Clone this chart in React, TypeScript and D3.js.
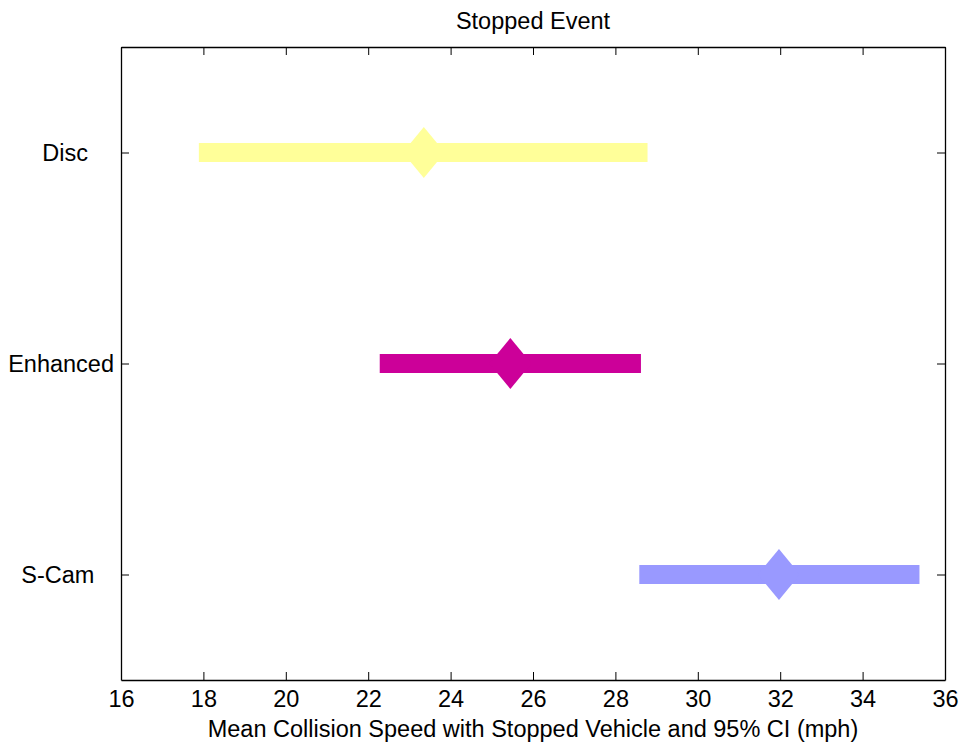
import { useEffect, useRef } from "react";
import * as d3 from "d3";

// Stopped event: mean collision speed with 95% CI per camera configuration
const categories = ["Disc", "Enhanced", "S-Cam"];
const yTickLabels = ["Disc    ", "Enhanced", "S-Cam   "];
const means = [23.35, 25.45, 31.97];
const ciLow = [17.89, 22.28, 28.58];
const ciHigh = [28.78, 28.62, 35.38];
const colors = ["#ffff99", "#cc0099", "#9999ff"];
const xTicks = [16, 18, 20, 22, 24, 26, 28, 30, 32, 34, 36];

const FONT = "'Liberation Sans', Arial, Helvetica, sans-serif";
const FONT_SIZE = "23.5px";

const App = () => {
  const svgRef = useRef<SVGSVGElement | null>(null);

  useEffect(() => {
    const width = 964;
    const height = 748;
    const margin = { top: 47, right: 19, bottom: 68, left: 121 };
    const innerWidth = width - margin.left - margin.right;
    const innerHeight = height - margin.top - margin.bottom;

    d3.select(svgRef.current).selectAll("*").remove();

    const svg = d3
      .select(svgRef.current)
      .attr("width", width)
      .attr("height", height);

    const g = svg
      .append("g")
      .attr("transform", `translate(${margin.left},${margin.top})`);

    const x = d3.scaleLinear().domain([16, 36]).range([0, innerWidth]);
    const y = d3.scaleLinear().domain([0.5, 3.5]).range([0, innerHeight]);

    const rows = categories.map((c, i) => ({
      name: c,
      pos: i + 1,
      mean: means[i],
      lo: ciLow[i],
      hi: ciHigh[i],
      color: colors[i],
    }));

    // CI bars
    const barH = 19;
    g.selectAll(".ci")
      .data(rows)
      .enter()
      .append("rect")
      .attr("class", "ci")
      .attr("x", (d) => x(d.lo))
      .attr("y", (d) => y(d.pos) - barH / 2)
      .attr("width", (d) => x(d.hi) - x(d.lo))
      .attr("height", barH)
      .attr("fill", (d) => d.color);

    // diamond markers at the mean
    const hw = 21;
    const hh = 25.5;
    g.selectAll(".mean")
      .data(rows)
      .enter()
      .append("path")
      .attr("class", "mean")
      .attr("d", (d) => {
        const cx = x(d.mean);
        const cy = y(d.pos);
        return `M${cx},${cy - hh}L${cx + hw},${cy}L${cx},${cy + hh}L${cx - hw},${cy}Z`;
      })
      .attr("fill", (d) => d.color);

    const styleAxis = (sel: any) => {
      sel.select(".domain").attr("stroke", "#000").attr("stroke-width", 1.3);
      sel.selectAll("line").attr("stroke", "#000").attr("stroke-width", 1);
      sel
        .selectAll("text")
        .attr("fill", "#000")
        .style("font-family", FONT)
        .style("font-size", FONT_SIZE);
    };

    // bottom axis
    g.append("g")
      .attr("transform", `translate(0,${innerHeight})`)
      .call(
        d3
          .axisBottom(x)
          .tickValues(xTicks)
          .tickSizeInner(-8)
          .tickSizeOuter(0)
          .tickPadding(10)
          .tickFormat((d) => `${d}`)
      )
      .call(styleAxis);

    // top axis (ticks only)
    g.append("g")
      .call(
        d3
          .axisTop(x)
          .tickValues(xTicks)
          .tickSizeInner(-8)
          .tickSizeOuter(0)
          .tickFormat(() => "")
      )
      .call(styleAxis);

    // left axis
    g.append("g")
      .call(
        d3
          .axisLeft(y)
          .tickValues([1, 2, 3])
          .tickSizeInner(-8)
          .tickSizeOuter(0)
          .tickPadding(7)
          .tickFormat((d) => yTickLabels[(d as number) - 1])
      )
      .call(styleAxis)
      .selectAll("text")
      .style("white-space", "pre")
      .attr("xml:space", "preserve");

    // right axis (ticks only)
    g.append("g")
      .attr("transform", `translate(${innerWidth},0)`)
      .call(
        d3
          .axisRight(y)
          .tickValues([1, 2, 3])
          .tickSizeInner(-8)
          .tickSizeOuter(0)
          .tickFormat(() => "")
      )
      .call(styleAxis);

    // title
    svg
      .append("text")
      .attr("x", margin.left + innerWidth / 2)
      .attr("y", 29)
      .attr("text-anchor", "middle")
      .style("font-family", FONT)
      .style("font-size", FONT_SIZE)
      .attr("fill", "#000")
      .text("Stopped Event");

    // x axis label
    svg
      .append("text")
      .attr("x", margin.left + innerWidth / 2)
      .attr("y", 737)
      .attr("text-anchor", "middle")
      .style("font-family", FONT)
      .style("font-size", FONT_SIZE)
      .attr("fill", "#000")
      .text("Mean Collision Speed with Stopped Vehicle and 95% CI (mph)");
  }, []);

  return (
    <div style={{ position: "absolute", left: 0, top: 0, background: "#fff" }}>
      <svg ref={svgRef} style={{ display: "block" }}></svg>
    </div>
  );
};

export default App;
